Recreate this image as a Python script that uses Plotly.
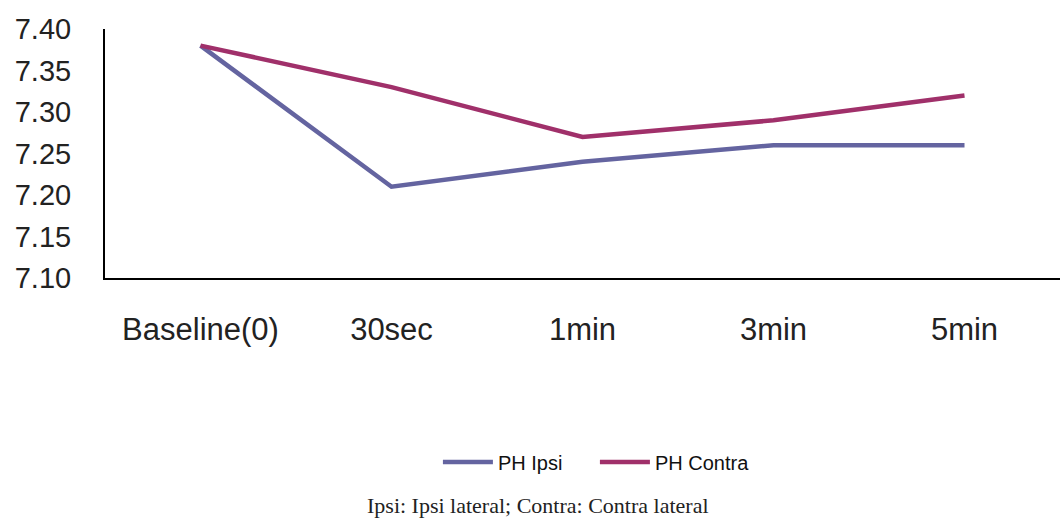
import plotly.graph_objects as go

categories = ["Baseline(0)", "30sec", "1min", "3min", "5min"]
ph_ipsi = [7.38, 7.21, 7.24, 7.26, 7.26]
ph_contra = [7.38, 7.33, 7.27, 7.29, 7.32]
y_ticks = [7.10, 7.15, 7.20, 7.25, 7.30, 7.35, 7.40]
caption = "Ipsi: Ipsi lateral; Contra: Contra lateral"

fig = go.Figure()
fig.add_trace(go.Scatter(x=categories, y=ph_ipsi, mode="lines", name="PH Ipsi",
                         line=dict(color="#6464A0", width=4.5)))
fig.add_trace(go.Scatter(x=categories, y=ph_contra, mode="lines", name="PH Contra",
                         line=dict(color="#A0306A", width=4.5)))

fig.update_layout(
    width=1062, height=519,
    margin=dict(l=105, r=2, t=29, b=241),
    paper_bgcolor="white", plot_bgcolor="white",
    font=dict(family="Liberation Sans, Arial, sans-serif", color="#222222"),
    showlegend=True,
    legend=dict(orientation="h", x=0.513, y=-0.739, xanchor="center", yanchor="middle",
                font=dict(size=20, color="#111111"), itemwidth=50, entrywidth=92),
    annotations=[dict(text=caption, xref="paper", yref="paper", x=0.453, y=-0.912,
                      xanchor="center", yanchor="middle", showarrow=False,
                      font=dict(family="Liberation Serif, Times New Roman, serif", size=22, color="#222222"))],
)
fig.update_xaxes(type="category", range=[-0.5, 4.5], showline=True, linecolor="black", linewidth=2,
                 showgrid=False, zeroline=False, ticks="", tickfont=dict(size=31),
                 ticklabelstandoff=23)
fig.update_yaxes(range=[7.10, 7.40], tickvals=y_ticks, tickformat=".2f", showline=True,
                 linecolor="black", linewidth=2, showgrid=False, zeroline=False, ticks="",
                 tickfont=dict(size=29), ticklabelstandoff=26)

fig.write_html("out.html", config={"displayModeBar": False},
               post_script="document.body.style.margin='0';")
